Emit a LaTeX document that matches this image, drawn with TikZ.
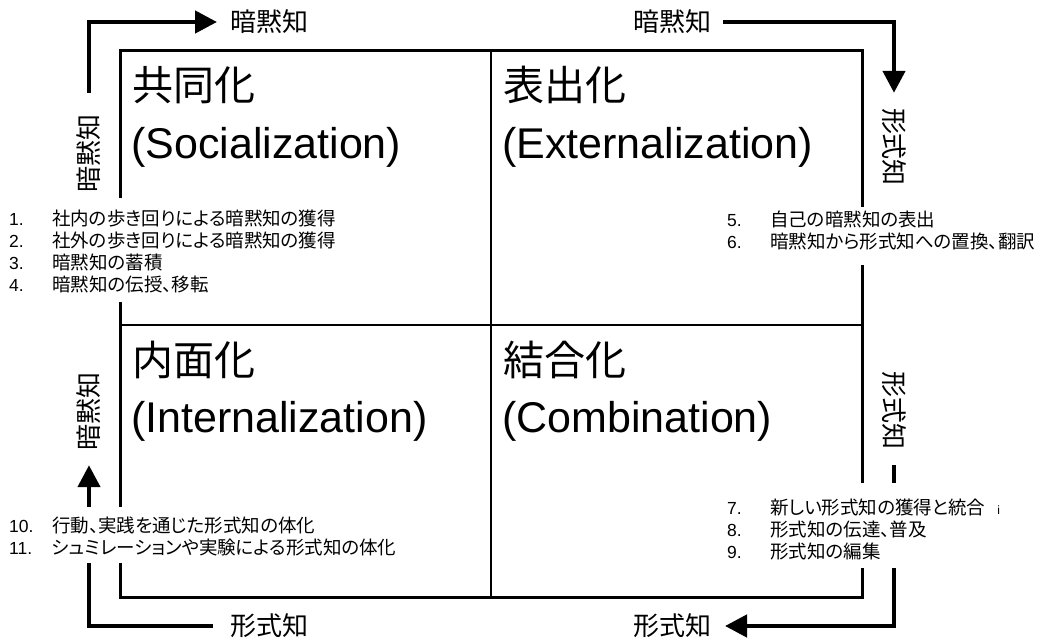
\documentclass[tikz,border=0pt]{standalone}
\usepackage{fontspec}
\setmainfont{Liberation Sans}
\newfontfamily\jp{Noto Sans CJK JP}
\newfontfamily\jpp[RawFeature=+palt]{Noto Sans CJK JP}
\usetikzlibrary{arrows.meta}
\tikzset{
  frame/.style={line width=3pt},
  divider/.style={line width=2.5pt},
  flow/.style={line width=4.5pt, -{Triangle[length=22pt,width=22pt]}},
  lbl/.style={font=\jp\fontsize{26}{26}\selectfont, inner sep=0pt},
  listbox/.style={fill=white, inner ysep=0pt, align=left, anchor=north west,
                  font=\jpp\fontsize{18.5}{22}\selectfont},
  ttljp/.style={anchor=base west, inner sep=0pt, font=\jp\fontsize{41}{41}\selectfont},
  ttlen/.style={anchor=base west, inner sep=0pt, font=\rmfamily\fontsize{43}{43}\selectfont},
}
\newcommand\itm[2]{\makebox[43pt][l]{\rmfamily\fontsize{17.5}{22}\selectfont #1}#2}
\begin{document}
\begin{tikzpicture}[x=1pt,y=-1pt]
\useasboundingbox (0,0) rectangle (1037,642);
% frame and dividers
\coordinate (nw) at (120,51);
\coordinate (se) at (862,597);
\coordinate (mt) at (491,51);
\coordinate (mb) at (491,597);
\coordinate (ml) at (120,325);
\coordinate (mr) at (862,325);
\draw[frame] (nw) rectangle (se);
\draw[divider] (mt) -- (mb);
\draw[divider] (ml) -- (mr);
% flow labels
\node[lbl, anchor=west] (tl) at (230,22) {暗黙知};
\node[lbl, anchor=east] (tr) at (712,22) {暗黙知};
\node[lbl, anchor=west] (bl) at (230,626) {形式知};
\node[lbl, anchor=east] (br) at (712,626) {形式知};
\node[lbl, rotate=90]  (vl1) at (89,153) {暗黙知};
\node[lbl, rotate=-90] (vr1) at (894,147) {形式知};
\node[lbl, rotate=-90] (vr2) at (894,410) {形式知};
\node[lbl, rotate=90]  (vl2) at (89,411) {暗黙知};
% flow arrows
\draw[flow, shorten <=21pt, shorten >=13pt] (vl1.east) |- (tl.west);
\draw[flow, shorten <=11pt, shorten >=15pt] (tr.east) -| (vr1.west);
\draw[flow, shorten <=16pt, shorten >=13pt] (vr2.east) |- (br.east);
\draw[flow, shorten <=17pt, shorten >=15pt] (bl.west) -| (vl2.west);
% lists
\node[listbox, inner xsep=9pt] (L1) at (0,198) {\rule{0pt}{27pt}\itm{1.}{社内の歩き回りによる暗黙知の獲得}\\
  \itm{2.}{社外の歩き回りによる暗黙知の獲得}\\
  \itm{3.}{暗黙知の蓄積}\\
  \itm{4.}{暗黙知の伝授、移転}\rule[-11pt]{0pt}{11pt}};
\node[listbox, inner xsep=7pt] (L2) at (720,207) {\rule{0pt}{19.5pt}\itm{5.}{自己の暗黙知の表出}\\
  \itm{6.}{暗黙知から形式知への置換、翻訳}\rule[-16.5pt]{0pt}{16.5pt}};
\node[listbox, inner xsep=7pt] (L3) at (720,483) {\rule{0pt}{31pt}\itm{7.}{新しい形式知の獲得と統合}\hspace{12pt}{\rmfamily\fontsize{12}{12}\selectfont i}\\
  \itm{8.}{形式知の伝達、普及}\\
  \itm{9.}{形式知の編集}\rule[-10pt]{0pt}{10pt}};
\node[listbox, inner xsep=9pt] (L4) at (0,507) {\rule{0pt}{25pt}\itm{10.}{行動、実践を通じた形式知の体化}\\
  \itm{11.}{シュミレーションや実験による形式知の体化}\rule[-9pt]{0pt}{9pt}};
% quadrant titles
\node[ttljp] (q1) at (132,101) {共同化};
\node[ttlen] (q1e) at (131,158) {(Socialization)};
\node[ttljp] (q2) at (503,101) {表出化};
\node[ttlen] (q2e) at (502,158) {(Externalization)};
\node[ttljp] (q3) at (132,375) {内面化};
\node[ttlen] (q3e) at (131,432) {(Internalization)};
\node[ttljp] (q4) at (503,375) {結合化};
\node[ttlen] (q4e) at (502,432) {(Combination)};
\end{tikzpicture}
\end{document}
